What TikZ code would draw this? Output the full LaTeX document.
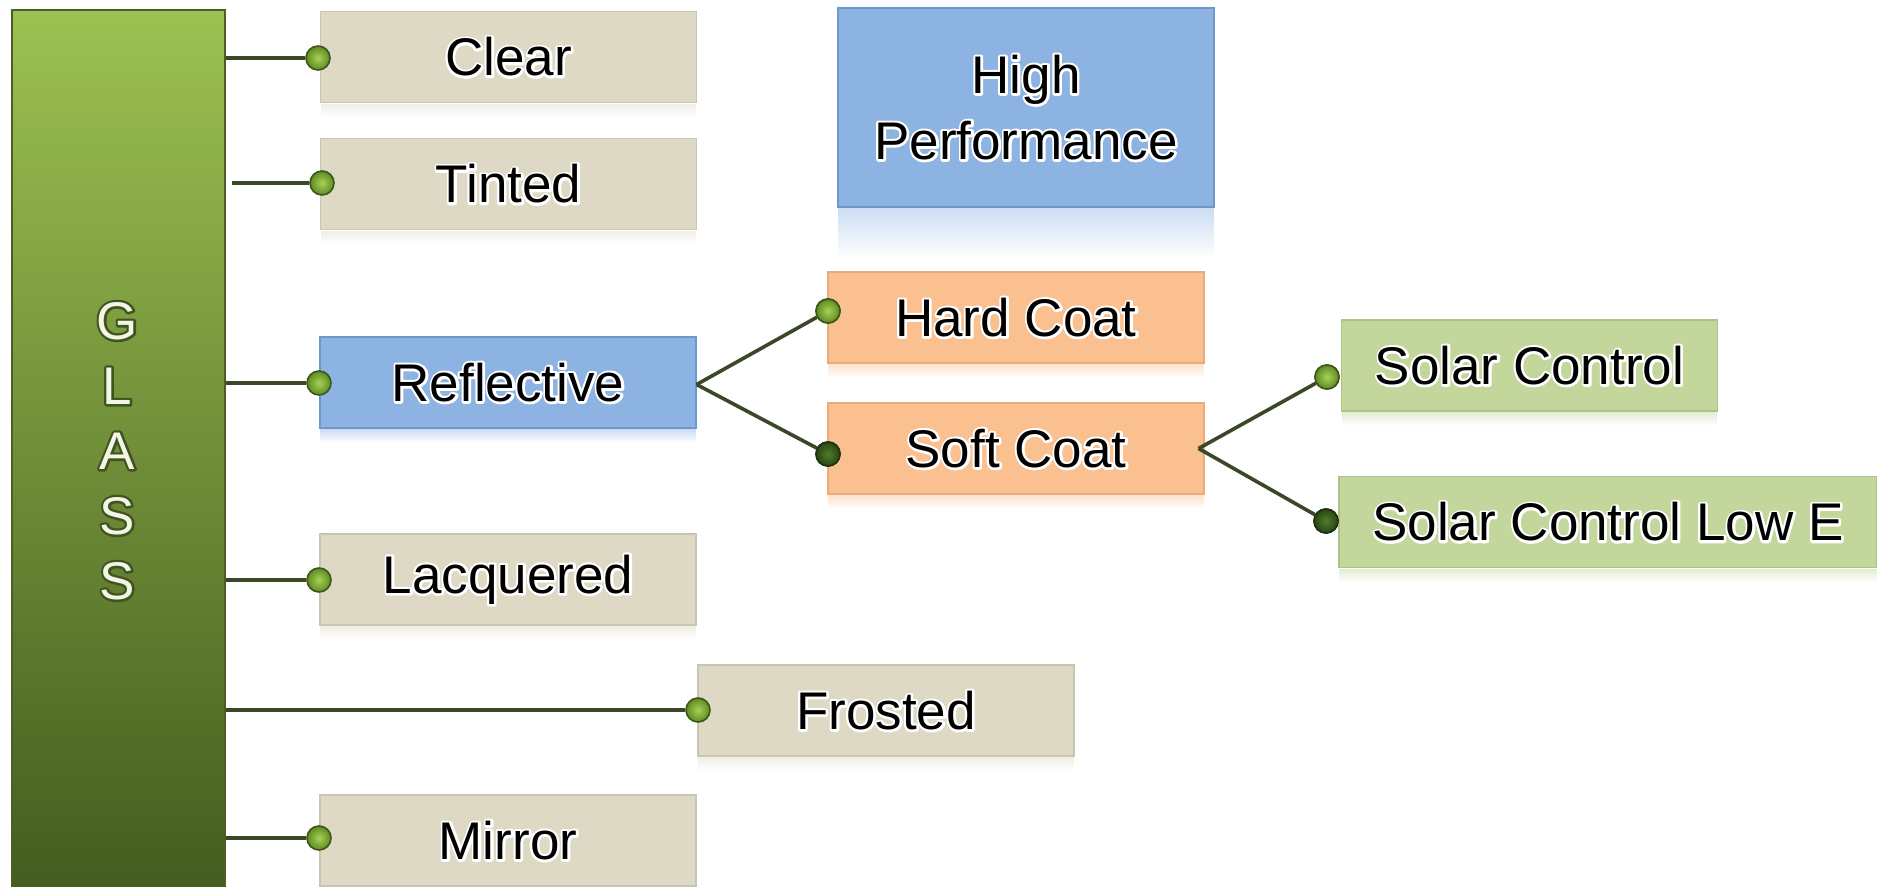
\documentclass[tikz,border=0pt]{standalone}
\usepackage{fontspec}
\setmainfont{Liberation Sans}
\usetikzlibrary{fadings}
\definecolor{boxBeige}{HTML}{DDD9C4}
\definecolor{boxBeigeD}{HTML}{C9C5AF}
\definecolor{boxBlue}{HTML}{8DB3E2}
\definecolor{boxBlueD}{HTML}{6F97CB}
\definecolor{boxOrange}{HTML}{FAC090}
\definecolor{boxOrangeD}{HTML}{E8AB7A}
\definecolor{boxGreen}{HTML}{C3D69B}
\definecolor{boxGreenD}{HTML}{AFC386}
\definecolor{barTop}{HTML}{9DC152}
\definecolor{barBot}{HTML}{445C1F}
\definecolor{barEdge}{HTML}{4A5F25}
\definecolor{linkC}{HTML}{3A4728}
\definecolor{dotLi}{HTML}{A8D155}
\definecolor{dotLo}{HTML}{5E8A22}
\definecolor{dotLe}{HTML}{3D571A}
\definecolor{dotDi}{HTML}{4F7D2A}
\definecolor{dotDo}{HTML}{2A4512}
\definecolor{dotDe}{HTML}{1E3210}
\definecolor{glassTxt}{HTML}{F3F6E4}
% text with a halo: a stroked copy behind the filled text
\newcommand{\haloW}[1]{\leavevmode\rlap{\special{pdf:literal 1 Tr 2.4 w 1 j 1 1 1 RG}#1\special{pdf:literal 0 Tr}}#1}
\newcommand{\haloG}[1]{\leavevmode\rlap{\special{pdf:literal 1 Tr 2.4 w 1 j 0.25 0.33 0.13 RG}#1\special{pdf:literal 0 Tr}}#1}
\begin{document}
\begin{tikzpicture}[x=0.5pt,y=-0.5pt,
  box/.style={rectangle, minimum width=188pt, minimum height=45.5pt, inner sep=0pt,
    font=\fontsize{26.5}{32}\selectfont, text=black, line width=0.6pt},
  beige/.style={box, fill=boxBeige, draw=boxBeigeD},
  blue/.style={box, fill=boxBlue, draw=boxBlueD},
  orange/.style={box, fill=boxOrange, draw=boxOrangeD},
  green/.style={box, fill=boxGreen, draw=boxGreenD},
  dotlight/.style={circle, minimum size=12pt, inner sep=0pt, draw=dotLe, line width=0.8pt,
    inner color=dotLi, outer color=dotLo},
  dotdark/.style={circle, minimum size=12pt, inner sep=0pt, draw=dotDe, line width=0.8pt,
    inner color=dotDi, outer color=dotDo},
  link/.style={draw=linkC, line width=1.8pt},
  refl/.style={fill=#1, fill opacity=0.45, path fading=south, draw=none}
]
\useasboundingbox (0,0) rectangle (1877,887);
% GLASS bar
\node[rectangle, minimum width=106.5pt, minimum height=440pt, inner sep=0pt,
  top color=barTop, bottom color=barBot, draw=barEdge, line width=0.8pt] (glass) at (118.5,450) {};
\node[text=glassTxt, align=center, font=\fontsize{26.5}{32.5}\selectfont] (glasstxt) at (117,451)
  {\haloG{G}\\\haloG{L}\\\haloG{A}\\\haloG{S}\\\haloG{S}};
% boxes
\node[beige] (clear) at (508.5,57) {\haloW{Clear}};
\node[beige] (tinted) at (508.5,184) {\haloW{Tinted}};
\node[blue] (refl) at (508,382.5) {\haloW{Reflective}};
\node[beige] (lacq) at (508,579.5) {\haloW{Lacquered}};
\node[beige] (frost) at (886,710.5) {\haloW{Frosted}};
\node[beige] (mirror) at (508,840.5) {\haloW{Mirror}};
\node[blue, minimum height=99.5pt, align=center, font=\fontsize{26.5}{33}\selectfont] (hp) at (1026,107.5) {\haloW{High}\\\haloW{Performance}};
\node[orange] (hard) at (1016,317.5) {\haloW{Hard Coat}};
\node[orange] (soft) at (1016,448.5) {\haloW{Soft Coat}};
\node[green] (solar) at (1529.5,365.5) {\haloW{Solar Control}};
\node[green, minimum width=269pt] (lowe) at (1608,522) {\haloW{Solar Control Low E}};
% reflections
\fill[refl=boxBlue] ([xshift=0.5pt]hp.south west) rectangle ([xshift=-0.5pt,yshift=-25pt]hp.south east);
\foreach \n/\c in {clear/boxBeige, tinted/boxBeige, refl/boxBlue, lacq/boxBeige, frost/boxBeige,
  hard/boxOrange, soft/boxOrange, solar/boxGreen, lowe/boxGreen}
  \fill[refl=\c] ([xshift=0.5pt,yshift=-0.4pt]\n.south west) rectangle ([xshift=-0.5pt,yshift=-7pt]\n.south east);
% dots
\node[dotlight] (dclear) at (318,58) {};
\node[dotlight] (dtinted) at (322,183) {};
\node[dotlight] (drefl) at (319,383) {};
\node[dotlight] (dlacq) at (319,580) {};
\node[dotlight] (dfrost) at (698,710) {};
\node[dotlight] (dmirror) at (319,838) {};
\node[dotlight] (dhard) at (828,311) {};
\node[dotdark] (dsoft) at (828,454) {};
\node[dotlight] (dsolar) at (1327,377) {};
\node[dotdark] (dlowe) at (1326,521) {};
% connectors
\foreach \d in {dclear, drefl, dlacq, dfrost, dmirror}
  \draw[link] (glass.east |- \d) -- (\d.west);
\draw[link] ([xshift=3pt]glass.east |- dtinted) -- (dtinted.west);
\coordinate (rfx) at ([yshift=-1pt]refl.east);
\draw[link] (rfx) -- (dhard);
\draw[link] (rfx) -- (dsoft);
\coordinate (sfx) at ([xshift=-3pt]soft.east);
\draw[link] (sfx) -- (dsolar);
\draw[link] (sfx) -- (dlowe);
% redraw dots on top
\foreach \d/\s in {dhard/dotlight, dsoft/dotdark, dsolar/dotlight, dlowe/dotdark}
  \node[\s] at (\d) {};
\end{tikzpicture}
\end{document}
